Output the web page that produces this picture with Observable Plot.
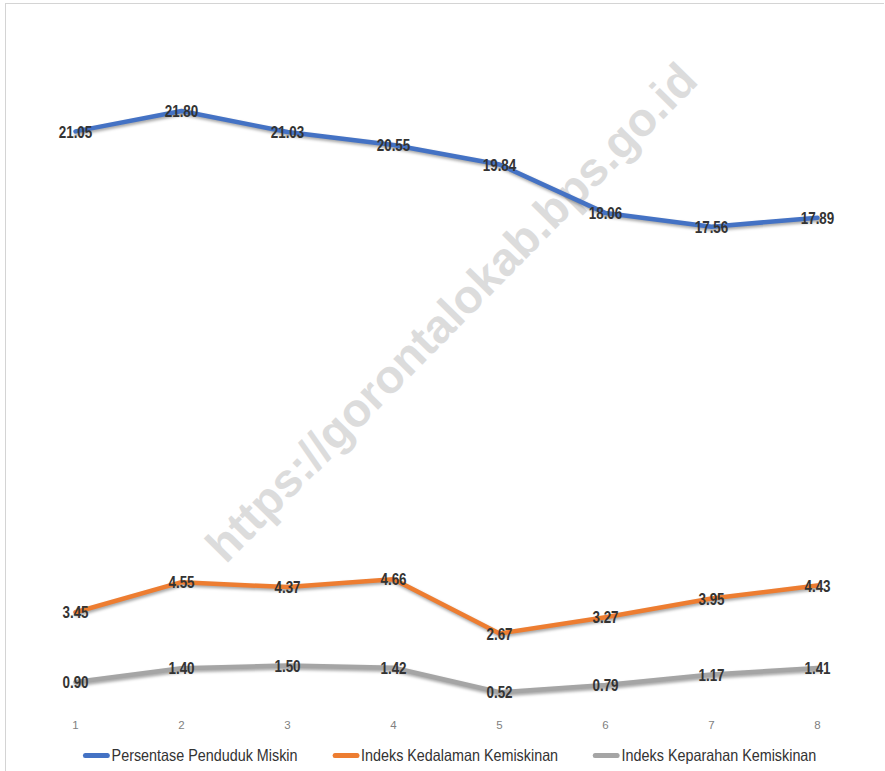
<!DOCTYPE html>
<html>
<head>
<meta charset="utf-8">
<script src="https://cdn.jsdelivr.net/npm/d3@7"></script>
<script src="https://cdn.jsdelivr.net/npm/@observablehq/plot@0.6"></script>
<style>
  html, body { margin: 0; padding: 0; background: #fff; }
  #wrap { position: relative; width: 885px; height: 771px; overflow: hidden; }
  #frame { position: absolute; left: 5px; top: 3px; width: 878px; height: 780px;
           border-top: 1px solid #d4d4d4; border-left: 1px solid #d4d4d4; pointer-events: none; }
  #wm { position: absolute; left: 451px; top: 312px; transform: translate(-50%, -50%) rotate(-45.5deg);
        font-family: "Liberation Sans", Arial, sans-serif; font-weight: bold; font-size: 47px;
        color: #dcdcdc; white-space: nowrap; z-index: 0; }
  #chart { position: absolute; left: 0; top: 0; z-index: 1; }
  #chart svg { background: transparent !important; }
  #chart g[aria-label="line"] { filter: drop-shadow(1px 2px 1.5px rgba(0,0,0,0.35)); }
  #legend { position: absolute; left: 0; top: 746px; width: 885px; display: flex; justify-content: center;
            gap: 40px; font-family: "Liberation Sans", Arial, sans-serif; font-size: 16.5px;
            color: #333; z-index: 1; transform: translateX(6px) scaleX(0.87); transform-origin: 451px 0; }
  .item { display: flex; align-items: center; }
  .sw { width: 31px; height: 4.5px; border-radius: 3px; margin-right: 2px; }
</style>
</head>
<body>
<div id="wrap">
  <div id="frame"></div>
  <div id="wm">https://gorontalokab.bps.go.id</div>
  <div id="chart"></div>
  <div id="legend"></div>
</div>
<script>
const categories = [1, 2, 3, 4, 5, 6, 7, 8];
const seriesNames = ["Persentase Penduduk Miskin", "Indeks Kedalaman Kemiskinan", "Indeks Keparahan Kemiskinan"];
const seriesColors = ["#4472C4", "#ED7D31", "#A5A5A5"];
const persentase = [21.05, 21.80, 21.03, 20.55, 19.84, 18.06, 17.56, 17.89];
const kedalaman = [3.45, 4.55, 4.37, 4.66, 2.67, 3.27, 3.95, 4.43];
const keparahan = [0.90, 1.40, 1.50, 1.42, 0.52, 0.79, 1.17, 1.41];

const valuesBySeries = [persentase, kedalaman, keparahan];
const data = [];
valuesBySeries.forEach((vals, si) => {
  vals.forEach((v, i) => data.push({ series: seriesNames[si], x: categories[i], y: v }));
});

const chart = Plot.plot({
  width: 885,
  height: 736,
  marginTop: 23,
  marginBottom: 30,
  marginLeft: 73.5,
  marginRight: 67,
  style: { background: "transparent", fontFamily: "'Liberation Sans', Arial, sans-serif" },
  x: { type: "point", domain: categories, padding: 0, label: null },
  y: { domain: [0, 25], axis: null },
  color: { domain: seriesNames, range: seriesColors },
  marks: [
    Plot.axisX({ tickSize: 0, tickPadding: 14, fontSize: 11.5, color: "#7f7f7f", label: null }),
    Plot.line(data, { x: "x", y: "y", z: "series", stroke: "series", strokeWidth: 4.5,
                      strokeLinejoin: "round", strokeLinecap: "round" }),
    Plot.text(data, { x: "x", y: "y", text: d => d.y.toFixed(2), fill: "#333",
                      fontSize: 16, fontWeight: "bold", dy: 1 })
  ]
});
// narrow the value labels (Calibri-like condensed look) while keeping their positions
chart.querySelectorAll('g[aria-label="text"] text').forEach(t => {
  const tr = t.getAttribute("transform") || "";
  t.setAttribute("transform", (tr + " scale(0.84,1)").trim());
});
document.getElementById("chart").appendChild(chart);

const legend = document.getElementById("legend");
seriesNames.forEach((name, i) => {
  const item = document.createElement("div");
  item.className = "item";
  const sw = document.createElement("span");
  sw.className = "sw";
  sw.style.background = seriesColors[i];
  const t = document.createElement("span");
  t.textContent = name;
  item.appendChild(sw);
  item.appendChild(t);
  legend.appendChild(item);
});
</script>
</body>
</html>
